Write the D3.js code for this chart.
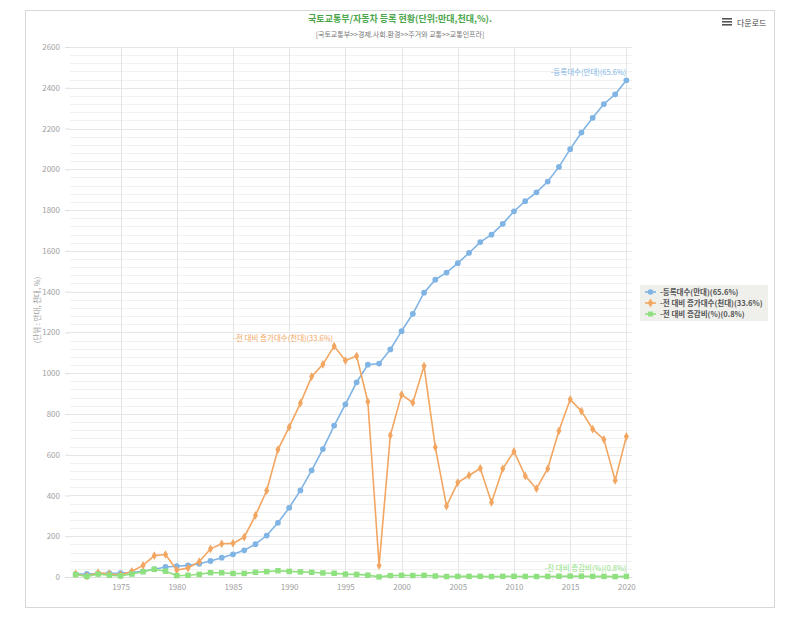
<!DOCTYPE html>
<html>
<head>
<meta charset="utf-8">
<script src="https://cdn.jsdelivr.net/npm/d3@7"></script>
<style>
  body { margin: 0; background: #fff; font-family: "Noto Sans CJK KR", "Noto Sans", sans-serif; }
  text { font-family: "Noto Sans CJK KR", "Noto Sans", sans-serif; }
</style>
</head>
<body>
<svg id="chart" width="800" height="640"></svg>
<script>
// years 1971 - 2020
var years = d3.range(1971, 2021);

// 등록대수(만대)
var registered = [14.4, 14.8, 16.9, 18.4, 19.4, 22.2, 27.9, 38.4, 49.4, 52.8,
  57.2, 64.7, 78.5, 94.8, 111.3, 130.9, 161.1, 203.5, 266.0, 339.5,
  424.8, 523.1, 627.4, 742.7, 846.9, 955.3, 1041.3, 1046.9, 1116.4, 1205.9,
  1291.4, 1394.9, 1458.6, 1493.4, 1539.7, 1589.5, 1642.8, 1679.4, 1732.5, 1794.1,
  1843.7, 1887.0, 1940.1, 2011.8, 2098.9, 2180.3, 2252.8, 2320.3, 2367.7, 2436.6];

// 전 대비 증가대수(천대)
var increase = [15, 4, 21, 15, 10, 28, 57, 105, 110, 34,
  44, 75, 138, 163, 165, 196, 302, 424, 625, 735,
  853, 983, 1043, 1133, 1062, 1084, 860, 56, 695, 895,
  855, 1035, 637, 348, 463, 498, 533, 366, 531, 616,
  496, 433, 531, 717, 871, 814, 725, 675, 474, 689];

// 전 대비 증감비(%)
var rate = [12, 2.8, 14.2, 8.9, 5.4, 14.4, 25.7, 37.6, 28.6, 6.9,
  8.3, 13.1, 21.3, 20.8, 17.4, 17.6, 23.1, 26.3, 30.7, 27.6,
  25.1, 23.1, 19.9, 18.4, 14.0, 12.8, 9.0, 0.5, 6.6, 8.0,
  7.1, 8.0, 4.6, 2.4, 3.1, 3.2, 3.4, 2.2, 3.2, 3.6,
  2.8, 2.3, 2.8, 3.7, 4.3, 3.9, 3.3, 3.0, 2.0, 2.9];

var seriesNames = ["-등록대수(만대)(65.6%)", "-전 대비 증가대수(천대)(33.6%)", "-전 대비 증감비(%)(0.8%)"];
var seriesColors = ["#80b4e4", "#f2a661", "#8fe07f"];
var seriesShapes = [d3.symbolCircle, d3.symbolDiamond, d3.symbolSquare];
var xTicks = [1975, 1980, 1985, 1990, 1995, 2000, 2005, 2010, 2015, 2020];
var yTicks = d3.range(0, 2601, 200);

var margin = {left: 70, right: 168, top: 47, bottom: 63};
var width = 800, height = 640;

var svg = d3.select("#chart");

// frame
svg.append("rect").attr("x", 25.5).attr("y", 10.5).attr("width", 749).attr("height", 597)
   .attr("fill", "#fff").attr("stroke", "#d8d8d8");

var x = d3.scaleLinear().domain([1970.5, 2020.5]).range([margin.left, width - margin.right]);
var y = d3.scaleLinear().domain([0, 2600]).range([height - margin.bottom, margin.top]);

// minor grid
svg.append("g").selectAll("line").data(d3.range(0, 2601, 40)).enter().append("line")
   .attr("x1", margin.left).attr("x2", width - margin.right)
   .attr("y1", function(d) { return Math.round(y(d)) + 0.5; })
   .attr("y2", function(d) { return Math.round(y(d)) + 0.5; })
   .attr("stroke", "#f1f1f1");

// major grid
svg.append("g").selectAll("line").data(yTicks).enter().append("line")
   .attr("x1", margin.left).attr("x2", width - margin.right)
   .attr("y1", function(d) { return Math.round(y(d)) + 0.5; })
   .attr("y2", function(d) { return Math.round(y(d)) + 0.5; })
   .attr("stroke", "#e6e6e6");

svg.append("g").selectAll("line").data(xTicks).enter().append("line")
   .attr("x1", function(d) { return Math.round(x(d)) + 0.5; })
   .attr("x2", function(d) { return Math.round(x(d)) + 0.5; })
   .attr("y1", margin.top).attr("y2", height - margin.bottom)
   .attr("stroke", "#e6e6e6");

// axes
var yAxis = d3.axisLeft(y).tickValues(yTicks).tickFormat(d3.format("d")).tickSize(5).tickPadding(5);
var gy = svg.append("g").attr("transform", "translate(" + margin.left + ",0)").call(yAxis);
gy.select(".domain").remove();
gy.selectAll("line").attr("stroke", "#dddddd");
gy.selectAll("text").attr("fill", "#a0a0a0").style("font-size", "8px");

var xAxis = d3.axisBottom(x).tickValues(xTicks).tickFormat(d3.format("d")).tickSize(0).tickPadding(7);
var gx = svg.append("g").attr("transform", "translate(0," + (height - margin.bottom) + ")").call(xAxis);
gx.select(".domain").attr("stroke", "#dddddd");
gx.selectAll("text").attr("fill", "#a0a0a0").style("font-size", "8px");

// y axis title
svg.append("text").attr("transform", "translate(40," + 310 + ") rotate(-90)")
   .attr("text-anchor", "middle").attr("fill", "#a0a0a0").style("font-size", "7.5px")
   .text("(단위 : 만대, 천대, %)");

// series
var allSeries = [registered, increase, rate];
allSeries.forEach(function(vals, i) {
  var pts = years.map(function(yr, j) { return [yr, vals[j]]; });
  var line = d3.line().x(function(d) { return x(d[0]); }).y(function(d) { return y(d[1]); });
  svg.append("path").datum(pts).attr("d", line).attr("fill", "none")
     .attr("stroke", seriesColors[i]).attr("stroke-width", 1.6);
  var size = i == 2 ? 30 : (i == 0 ? 26 : 22);
  svg.append("g").selectAll("path").data(pts).enter().append("path")
     .attr("d", d3.symbol().type(seriesShapes[i]).size(size))
     .attr("transform", function(d) { return "translate(" + x(d[0]) + "," + y(d[1]) + ")"; })
     .attr("fill", seriesColors[i]);
});

// series labels
svg.append("text").attr("x", x(2020)).attr("y", y(2436.6) - 5).attr("text-anchor", "end")
   .attr("fill", seriesColors[0]).style("font-size", "7.5px").text(seriesNames[0]);
svg.append("text").attr("x", x(1994) - 1).attr("y", y(1133) - 5).attr("text-anchor", "end")
   .attr("fill", seriesColors[1]).style("font-size", "7.5px").text(seriesNames[1]);
svg.append("text").attr("x", x(2020)).attr("y", y(2.9) - 5).attr("text-anchor", "end")
   .attr("fill", seriesColors[2]).style("font-size", "7.5px").text(seriesNames[2]);

// legend
var lg = svg.append("g").attr("transform", "translate(640,285)");
lg.append("rect").attr("width", 128).attr("height", 36).attr("fill", "#efefeb");
seriesNames.forEach(function(name, i) {
  var row = lg.append("g").attr("transform", "translate(0," + (7 + i * 11) + ")");
  row.append("line").attr("x1", 5).attr("x2", 16).attr("stroke", seriesColors[i]).attr("stroke-width", 1.6);
  row.append("path").attr("d", d3.symbol().type(seriesShapes[i]).size(24))
     .attr("transform", "translate(10.5,0)").attr("fill", seriesColors[i]);
  row.append("text").attr("x", 20).attr("y", 3).attr("fill", "#555").style("font-size", "7.5px")
     .style("font-weight", "bold").text(name);
});

// title
svg.append("text").attr("x", 400).attr("y", 22).attr("text-anchor", "middle")
   .attr("fill", "#4aa64a").style("font-size", "9px").style("font-weight", "bold")
   .text("국토교통부/자동차 등록 현황(단위:만대,천대,%).");
svg.append("text").attr("x", 400).attr("y", 37).attr("text-anchor", "middle")
   .attr("fill", "#777").style("font-size", "7px")
   .text("[국토교통부>>경제.사회.환경>>주거와 교통>>교통인프라]");

// download button
var dl = svg.append("g").attr("transform", "translate(722,18)");
[0, 3, 6].forEach(function(o) {
  dl.append("rect").attr("x", 0).attr("y", o).attr("width", 10).attr("height", 1.6).attr("fill", "#555");
});
dl.append("text").attr("x", 15).attr("y", 7.5).attr("fill", "#444").style("font-size", "8px").text("다운로드");
</script>
</body>
</html>
